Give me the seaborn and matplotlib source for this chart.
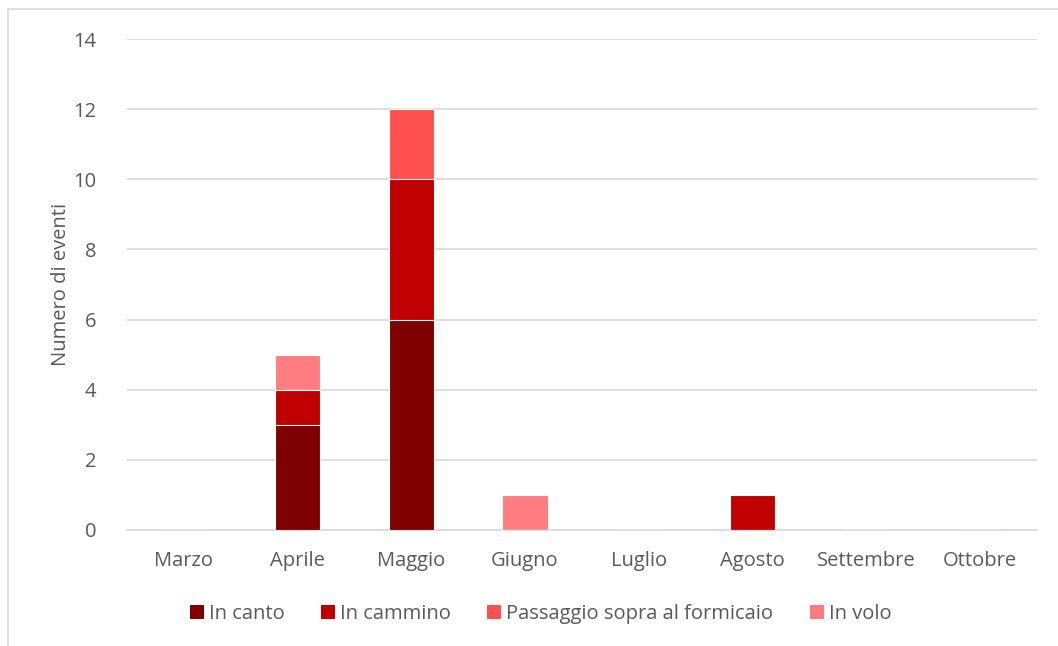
import matplotlib
matplotlib.use("Agg")
import matplotlib.pyplot as plt
from matplotlib.patches import Patch, Rectangle
import numpy as np
import pandas as pd
import seaborn as sns

# Monthly counts of observed events, by behaviour
mesi = ["Marzo", "Aprile", "Maggio", "Giugno", "Luglio", "Agosto", "Settembre", "Ottobre"]
in_canto = [0, 3, 6, 0, 0, 0, 0, 0]
in_cammino = [0, 1, 4, 0, 0, 1, 0, 0]
passaggio = [0, 0, 2, 0, 0, 0, 0, 0]
in_volo = [0, 1, 0, 1, 0, 0, 0, 0]

serie = ["In canto", "In cammino", "Passaggio sopra al formicaio", "In volo"]
colori = ["#7F0000", "#C00000", "#FF5050", "#FF7C80"]
y_ticks = [0, 2, 4, 6, 8, 10, 12, 14]

testo = "#595959"
griglia = "#D9D9D9"

sns.set_theme(style="white")
plt.rcParams["font.family"] = ["Open Sans", "DejaVu Sans"]

df = pd.DataFrame({"mese": mesi, serie[0]: in_canto, serie[1]: in_cammino,
                   serie[2]: passaggio, serie[3]: in_volo})
cum = df[serie].cumsum(axis=1)

fig = plt.figure(figsize=(10.58, 6.46), dpi=100)
ax = fig.add_axes([0.12, 0.1796, 0.86, 0.76])

# Stacked bars: draw cumulative totals from the top segment down
for nome, col in reversed(list(zip(serie, colori))):
    sns.barplot(x=df["mese"], y=cum[nome], color=col, width=0.4,
                edgecolor="white", linewidth=0.8, ax=ax, zorder=3,
                saturation=1)

ax.set_ylim(0, 14)
ax.set_yticks(y_ticks)
ax.set_xlim(-0.5, len(mesi) - 0.5)
ax.yaxis.grid(True, color=griglia, linewidth=1.2, zorder=0)
ax.set_axisbelow(True)
for s in ["top", "right", "left"]:
    ax.spines[s].set_visible(False)
ax.spines["bottom"].set_color(griglia)
ax.spines["bottom"].set_linewidth(1.2)
ax.tick_params(axis="both", length=0, colors=testo, labelsize=14.5)
ax.tick_params(axis="y", pad=22)
ax.tick_params(axis="x", pad=15)
ax.set_xlabel("")
ax.set_ylabel("Numero di eventi", color=testo, fontsize=14.5, labelpad=2)

handles = [Patch(facecolor=c, edgecolor="none") for c in colori]
fig.legend(handles, serie, loc="center", bbox_to_anchor=(0.511, 0.05), ncol=4,
           frameon=False, fontsize=14.5, labelcolor=testo, handlelength=0.7,
           handleheight=0.7, handletextpad=0.25, columnspacing=1.8)

# Chart frame
fig.patches.append(Rectangle((8 / 1058, -0.05), 1.2, 1 - 9 / 646 + 0.05,
                             transform=fig.transFigure, fill=False,
                             edgecolor=griglia, linewidth=1.2))

fig.savefig("out.png", dpi=100, facecolor="white")
